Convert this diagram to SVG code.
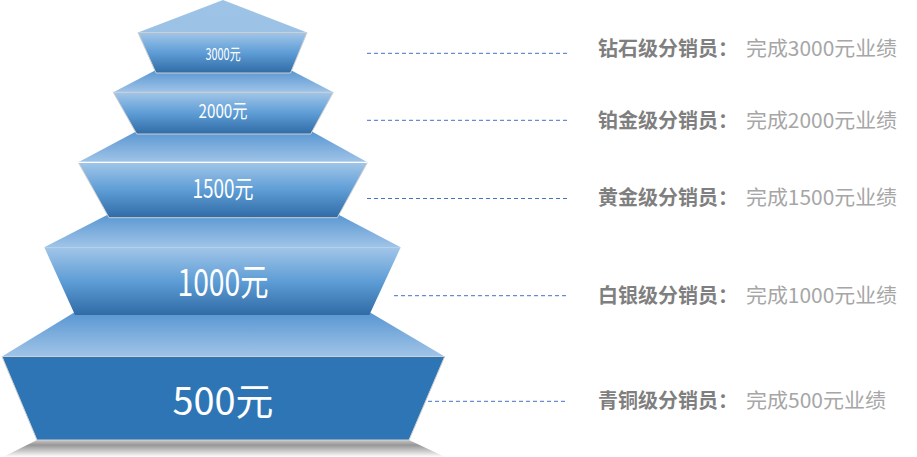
<svg xmlns="http://www.w3.org/2000/svg" width="917" height="457" viewBox="0 0 917 457">
<defs>
<linearGradient id="gFront" x1="0" y1="0" x2="0" y2="1">
<stop offset="0" stop-color="#A2C6E8"/>
<stop offset="0.5" stop-color="#5E9DD6"/>
<stop offset="1" stop-color="#306BA6"/>
</linearGradient>
<linearGradient id="gTop" x1="0" y1="0" x2="0" y2="1">
<stop offset="0" stop-color="#5896D2"/>
<stop offset="1" stop-color="#A0C4E7"/>
</linearGradient>
<linearGradient id="gApex" x1="0" y1="0" x2="0" y2="1">
<stop offset="0" stop-color="#9DC3E6"/>
<stop offset="1" stop-color="#9BC1E5"/>
</linearGradient>
<linearGradient id="gShadow" x1="0" y1="0" x2="0" y2="1">
<stop offset="0" stop-color="#C8C8C8"/>
<stop offset="0.3" stop-color="#969696"/>
<stop offset="1" stop-color="#FFFFFF"/>
</linearGradient>
<style>
.top{fill:url(#gTop);}
.front{fill:url(#gFront);stroke:#CFCFCF;stroke-width:1;}
.num{fill:#FFFFFF;font-family:"Noto Sans CJK SC","Noto Sans",sans-serif;text-anchor:middle;}
.lbl{font-family:"Noto Sans CJK SC","Noto Sans",sans-serif;font-size:20px;}
.b{fill:#7F7F7F;font-weight:700;}
.n{fill:#A6A6A6;font-weight:400;}
.dash{stroke:#4472C4;stroke-width:1;stroke-dasharray:4 3;fill:none;}
</style>
</defs>

<polygon points="37,440 409,440 445,457 3,457" fill="url(#gShadow)"/>

<g id="tier5">
<polygon class="top" points="75,312 369.3,312 444.7,356.5 2,356.5"/>
<polygon points="2,356.5 444.7,356.5 409,440 37,440" fill="#2E75B6" stroke="#CFCFCF" stroke-width="1"/>
<text class="num" x="223" y="415" font-size="38" textLength="101" lengthAdjust="spacingAndGlyphs">500元</text>
</g>

<g id="tier4">
<polygon class="top" points="109,214 337.3,214 400.7,247.3 44.3,247.3"/>
<polygon points="44.3,247.3 400.7,247.3 369.3,315 75,315" fill="url(#gFront)"/>
<text class="num" x="223" y="295.5" font-size="37" textLength="91" lengthAdjust="spacingAndGlyphs">1000元</text>
</g>

<g id="tier3">
<polygon class="top" points="137,131 311,131 367.5,162.3 78.3,162.3"/>
<polygon class="front" points="78.3,162.3 367.5,162.3 337.3,217.7 109,217.7"/>
<line x1="78.3" y1="162.3" x2="367.5" y2="162.3" stroke="#FFFFFF" stroke-width="1.2"/>
<text class="num" x="223" y="198" font-size="25" textLength="61" lengthAdjust="spacingAndGlyphs">1500元</text>
</g>

<g id="tier2">
<polygon class="top" points="156,70 290.5,70 333.3,92.3 113.3,92.3"/>
<polygon class="front" points="113.3,92.3 333.3,92.3 310.7,134 136.7,134"/>
<text class="num" x="223" y="117.7" font-size="19" textLength="49" lengthAdjust="spacingAndGlyphs">2000元</text>
</g>

<g id="tier1">
<polygon points="223,0 307,32.5 138,32.5" fill="url(#gApex)"/>
<polygon class="front" points="138,32.5 307,32.5 290.5,73 156,73"/>
<text class="num" x="223" y="59.5" font-size="16" textLength="35" lengthAdjust="spacingAndGlyphs">3000元</text>
</g>

<g id="connectors">
<line class="dash" x1="367" y1="53.3" x2="567" y2="53.3"/>
<line class="dash" x1="367" y1="120.3" x2="567" y2="120.3"/>
<line class="dash" x1="367" y1="198.5" x2="567" y2="198.5"/>
<line class="dash" x1="394" y1="295.7" x2="567" y2="295.7" stroke-dasharray="3 2.5"/>
<line class="dash" x1="428" y1="401.3" x2="567" y2="401.3" stroke-dasharray="3 2.5"/>
</g>

<g id="label-diamond">
<text class="lbl" y="56"><tspan class="b" x="598">钻石级分销员：</tspan><tspan class="n" x="746" textLength="151" lengthAdjust="spacingAndGlyphs">完成3000元业绩</tspan></text>
</g>
<g id="label-platinum">
<text class="lbl" y="128"><tspan class="b" x="598">铂金级分销员：</tspan><tspan class="n" x="746" textLength="151" lengthAdjust="spacingAndGlyphs">完成2000元业绩</tspan></text>
</g>
<g id="label-gold">
<text class="lbl" y="204.5"><tspan class="b" x="598">黄金级分销员：</tspan><tspan class="n" x="746" textLength="151" lengthAdjust="spacingAndGlyphs">完成1500元业绩</tspan></text>
</g>
<g id="label-silver">
<text class="lbl" y="302.5"><tspan class="b" x="598">白银级分销员：</tspan><tspan class="n" x="746" textLength="151" lengthAdjust="spacingAndGlyphs">完成1000元业绩</tspan></text>
</g>
<g id="label-bronze">
<text class="lbl" y="407.5"><tspan class="b" x="598">青铜级分销员：</tspan><tspan class="n" x="746" textLength="140" lengthAdjust="spacingAndGlyphs">完成500元业绩</tspan></text>
</g>
</svg>
